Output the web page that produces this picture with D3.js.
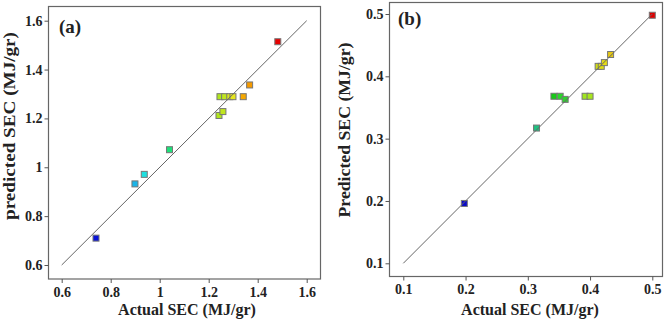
<!DOCTYPE html>
<html>
<head>
<meta charset="utf-8">
<script src="https://cdn.jsdelivr.net/npm/d3@7"></script>
<style>
  body { margin: 0; background: #fff; }
  svg text { font-family: "Liberation Serif", "Times New Roman", serif; font-weight: bold; fill: #222; }
</style>
</head>
<body>
<svg id="chart" width="668" height="321"></svg>
<script>
// panel (a)
const actualA = [0.74, 0.899, 0.937, 1.04, 1.242, 1.258, 1.246, 1.265, 1.286, 1.299, 1.341, 1.367, 1.482];
const predictedA = [0.71, 0.932, 0.971, 1.072, 1.212, 1.228, 1.289, 1.289, 1.289, 1.289, 1.289, 1.337, 1.514];
const colorsA = ['#0a14d8', '#1ab4e8', '#1ee0e0', '#1ee07a', '#b0e61e', '#c0e61e', '#b0e61e', '#c0e61e', '#d8e61e', '#e6e61e', '#f5a800', '#f59a00', '#e60000'];
const ticksA = [0.6, 0.8, 1, 1.2, 1.4, 1.6];

// panel (b)
const actualB = [0.198, 0.314, 0.342, 0.352, 0.36, 0.392, 0.4, 0.413, 0.418, 0.423, 0.433, 0.5];
const predictedB = [0.196, 0.317, 0.368, 0.368, 0.363, 0.368, 0.368, 0.416, 0.416, 0.422, 0.435, 0.498];
const colorsB = ['#0a0ac8', '#20c080', '#18c818', '#28d828', '#30d030', '#a0e61e', '#a8e61e', '#d0dc14', '#dcdc14', '#e6dc14', '#e6c814', '#e00000'];
const ticksB = [0.1, 0.2, 0.3, 0.4, 0.5];

const svg = d3.select('#chart');

function drawPanel(cfg) {
  const g = svg.append('g');
  const x = d3.scaleLinear().domain(cfg.domain).range(cfg.xRange);
  const y = d3.scaleLinear().domain(cfg.domain).range(cfg.yRange);

  // frame
  g.append('rect')
    .attr('x', cfg.frame.left).attr('y', cfg.frame.top)
    .attr('width', cfg.frame.right - cfg.frame.left)
    .attr('height', cfg.frame.bottom - cfg.frame.top)
    .attr('fill', 'none').attr('stroke', '#666').attr('stroke-width', 1.2);

  // axes
  const xAxis = d3.axisBottom(x).tickValues(cfg.ticks).tickSizeOuter(0).tickSize(4).tickPadding(4)
    .tickFormat(cfg.fmt);
  const gx = g.append('g').attr('transform', `translate(0,${cfg.frame.bottom})`).call(xAxis);
  gx.select('.domain').remove();
  gx.selectAll('line').attr('stroke', '#555');
  gx.selectAll('text').attr('font-size', 14).attr('fill', '#222')
    .style('font-family', '"Liberation Serif", serif').style('font-weight', 'bold');

  const yAxis = d3.axisLeft(y).tickValues(cfg.ticks).tickSizeOuter(0).tickSize(4).tickPadding(2)
    .tickFormat(cfg.fmt);
  const gy = g.append('g').attr('transform', `translate(${cfg.frame.left},0)`).call(yAxis);
  gy.select('.domain').remove();
  gy.selectAll('line').attr('stroke', '#555');
  gy.selectAll('text').attr('font-size', 14).attr('fill', '#222')
    .style('font-family', '"Liberation Serif", serif').style('font-weight', 'bold');

  // points
  const s = 6;
  g.selectAll('rect.pt')
    .data(cfg.xs)
    .enter()
    .append('rect')
    .attr('class', 'pt')
    .attr('x', (d) => x(d) - s / 2)
    .attr('y', (d, i) => y(cfg.ys[i]) - s / 2)
    .attr('width', s)
    .attr('height', s)
    .attr('fill', (d, i) => cfg.colors[i])
    .attr('stroke', '#777')
    .attr('stroke-width', 1);

  // y = x line
  g.append('line')
    .attr('x1', x(cfg.domain[0])).attr('y1', y(cfg.domain[0]))
    .attr('x2', x(cfg.domain[1])).attr('y2', y(cfg.domain[1]))
    .attr('stroke', '#666').attr('stroke-width', 1);

  // labels
  g.append('text')
    .attr('x', cfg.tag.x).attr('y', cfg.tag.y)
    .attr('font-size', 19)
    .text(cfg.tag.text);

  g.append('text')
    .attr('x', cfg.xTitle.x).attr('y', cfg.xTitle.y)
    .attr('text-anchor', 'middle')
    .attr('font-size', 16)
    .text('Actual SEC (MJ/gr)');

  g.append('text')
    .attr('transform', `translate(${cfg.yTitle.x},${cfg.yTitle.y}) rotate(-90)`)
    .attr('text-anchor', 'middle')
    .attr('font-size', 16)
    .attr('textLength', cfg.yTitle.len)
    .attr('lengthAdjust', 'spacingAndGlyphs')
    .text(cfg.yTitle.text);
}

drawPanel({
  domain: [0.6, 1.6],
  xRange: [61.7, 306.7],
  yRange: [265, 20.7],
  frame: { left: 48.5, right: 320.5, top: 6.5, bottom: 279 },
  ticks: ticksA,
  fmt: (d) => (d === 1 ? '1' : d3.format('.1f')(d)),
  xs: actualA,
  ys: predictedA,
  colors: colorsA,
  tag: { x: 59, y: 33, text: '(a)' },
  xTitle: { x: 187, y: 315 },
  yTitle: { x: 15, y: 126, len: 188, text: 'predicted SEC (MJ/gr)' },
});

drawPanel({
  domain: [0.1, 0.5],
  xRange: [403.3, 652.3],
  yRange: [263.3, 14],
  frame: { left: 389.5, right: 662.5, top: 2.5, bottom: 276.5 },
  ticks: ticksB,
  fmt: d3.format('.1f'),
  xs: actualB,
  ys: predictedB,
  colors: colorsB,
  tag: { x: 398, y: 25, text: '(b)' },
  xTitle: { x: 530, y: 315 },
  yTitle: { x: 350, y: 130, len: 175, text: 'Predicted SEC (MJ/gr)' },
});
</script>
</body>
</html>
